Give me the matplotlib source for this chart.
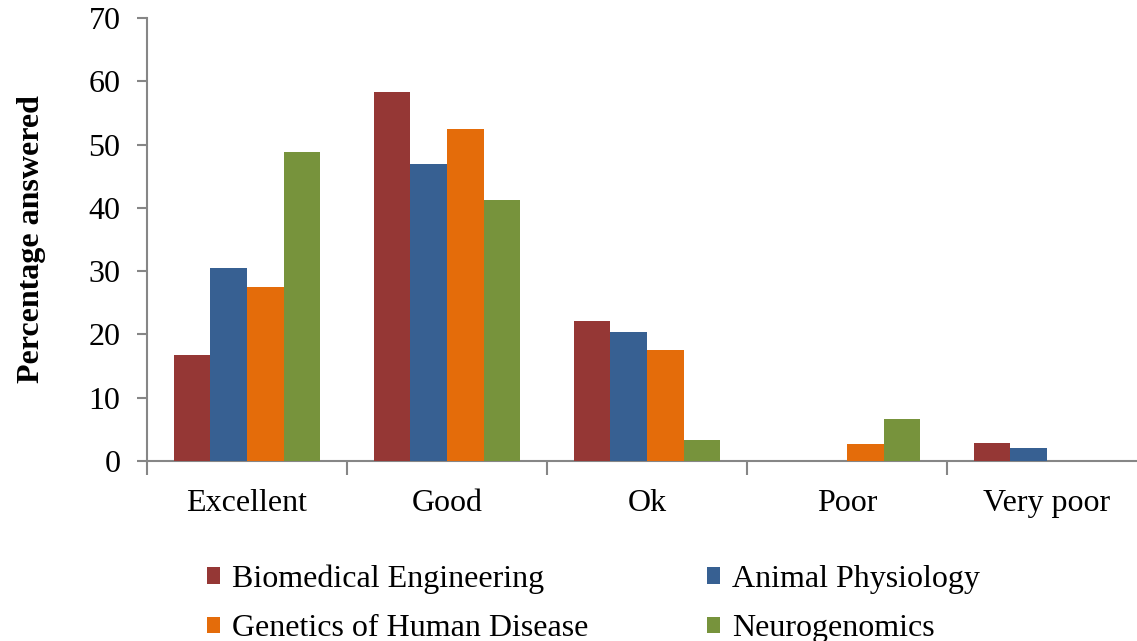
import matplotlib
matplotlib.use("Agg")
import matplotlib.pyplot as plt
import numpy as np

categories = ["Excellent", "Good", "Ok", "Poor", "Very poor"]
series_names = ["Biomedical Engineering", "Animal Physiology",
                "Genetics of Human Disease", "Neurogenomics"]
biomedical = [16.7, 58.3, 22.1, 0.0, 2.8]
animal = [30.5, 46.9, 20.4, 0.0, 2.1]
genetics = [27.5, 52.4, 17.5, 2.7, 0.0]
neuro = [48.8, 41.2, 3.3, 6.6, 0.0]
yticks = [0, 10, 20, 30, 40, 50, 60, 70]

series = [biomedical, animal, genetics, neuro]
colors = ["#953735", "#376092", "#E46C0A", "#77933C"]

plt.rcParams["font.family"] = ["Liberation Serif", "DejaVu Serif"]
fs = 23

fig = plt.figure(figsize=(11.37, 6.41), dpi=100)
ax = fig.add_axes([147 / 1137, 1 - 461 / 641, 1000 / 1137, 443 / 641])

x = np.arange(len(categories))
w = 0.183
offsets = (np.arange(4) - 1.5) * w
axis_grey = "#868686"
bars = []
for vals, off, c, name in zip(series, offsets, colors, series_names):
    bars.append(ax.bar(x + off, vals, width=w, color=c, label=name, zorder=3,
                       edgecolor="none"))

ax.set_xlim(-0.5, len(categories) - 0.5)
ax.set_ylim(0, 70)
ax.set_yticks(yticks)
ax.set_yticklabels([str(t) for t in yticks], fontsize=fs)
ax.set_xticks(x)
ax.set_xticklabels(categories, fontsize=fs)
ax.tick_params(axis="x", length=0, pad=20)
ax.set_xticks(np.arange(len(categories) + 1) - 0.5, minor=True)
ax.tick_params(axis="x", which="minor", length=10, color=axis_grey, width=1.5,
               direction="out")
ax.tick_params(axis="y", length=7, color=axis_grey, width=1.5, pad=12,
               direction="out")

for s in ["top", "right"]:
    ax.spines[s].set_visible(False)
for s in ["left", "bottom"]:
    ax.spines[s].set_color(axis_grey)
    ax.spines[s].set_linewidth(1.5)

ax.set_ylabel("Percentage answered", fontsize=fs, fontweight="bold",
              labelpad=31)

# legend fills column-wise, so interleave to read row-wise
order = [0, 2, 1, 3]
fig.legend([bars[i] for i in order], [series_names[i] for i in order],
           ncol=2, loc="upper left",
           bbox_to_anchor=(197 / 1137, 1 - 555 / 641), frameon=False,
           fontsize=fs, handlelength=0.42, handleheight=0.42,
           handletextpad=0.37, columnspacing=3.72, labelspacing=0.63,
           borderaxespad=0, borderpad=0.3)

fig.savefig("out.png", dpi=100)
